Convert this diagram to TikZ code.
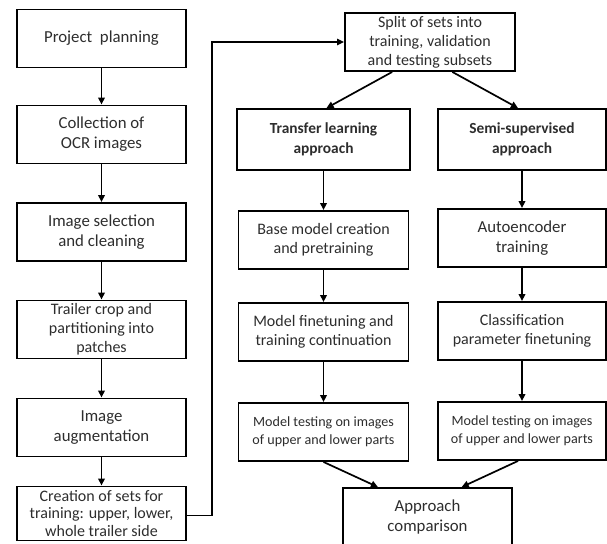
\documentclass[tikz,border=0pt]{standalone}
\usepackage{fontspec}
\setmainfont{Carlito}
\usepackage{tikz}
\usetikzlibrary{calc}
\usetikzlibrary{arrows.meta}
\definecolor{TxtGray}{RGB}{45,45,45}

\begin{document}
\begin{tikzpicture}
	\tikzstyle{blk} = [draw, line width=1.9pt, rectangle, align=center, text=TxtGray, inner sep=1pt, minimum width=170pt, minimum height=58pt, font=\fontsize{16.8}{20}\selectfont]
	\tikzstyle{sml} = [font=\fontsize{14.1}{18}\selectfont]
	\tikzstyle{mid} = [font=\fontsize{16}{19}\selectfont]
	\tikzstyle{hdr} = [font=\bfseries\fontsize{15.4}{19.5}\selectfont]
	\tikzstyle{arr} = [line width=1.7pt, -{Triangle[length=7pt,width=6.5pt]}]
	\useasboundingbox (0,0) rectangle (607pt,-543pt);

	% preparation
	\node[blk, minimum width=169pt] (plan) at (101.5pt,-38.5pt) {Project \ planning};
	\node[blk, minimum width=169pt, node distance=96pt] (coll) [below of=plan] {Collection of\\OCR images};
	\node[blk, minimum width=169pt, node distance=97.5pt] (sel) [below of=coll] {Image selection\\and cleaning};
	\node[blk, mid, minimum width=169pt, node distance=97.5pt] (crop) [below of=sel] {Trailer crop and\\partitioning into\\patches};
	\node[blk, minimum width=169pt, node distance=98pt] (aug) [below of=crop] {Image\\augmentation};
	\node[blk, font=\fontsize{16}{17.8}\selectfont, minimum width=169pt, minimum height=54pt, node distance=86pt] (sets) [below of=aug] {Creation of sets for\\training: upper, lower,\\whole trailer side};

	% two approaches
	\node[blk, mid] (split) at (430pt,-42pt) {Split of sets into\\training, validation\\and testing subsets};
	\node[blk, hdr, minimum width=173pt, minimum height=61pt] (tl) at (323.5pt,-139.5pt) {Transfer learning\\approach};
	\node[blk, mid, node distance=100.5pt] (base) [below of=tl] {Base model creation\\and pretraining};
	\node[blk, mid, node distance=92pt] (fine) [below of=base] {Model finetuning and\\training continuation};
	\node[blk, sml, node distance=100pt] (test1) [below of=fine] {Model testing on images\\of upper and lower parts};

	\node[blk, hdr, minimum width=168pt, minimum height=61pt] (ss) at (522pt,-139.5pt) {Semi-supervised\\approach};
	\node[blk, minimum width=168pt, node distance=98.5pt] (auto) [below of=ss] {Autoencoder\\training};
	\node[blk, mid, minimum width=168pt, node distance=93pt] (cls) [below of=auto] {Classification\\parameter finetuning};
	\node[blk, sml, minimum width=168pt, node distance=100pt] (test2) [below of=cls] {Model testing on images\\of upper and lower parts};

	\node[blk, minimum width=169pt] (comp) at (427.5pt,-517pt) {Approach\\comparison};

	\draw[arr] (plan) -- (coll);
	\draw[arr] (coll) -- (sel);
	\draw[arr] (sel) -- (crop);
	\draw[arr] (crop) -- (aug);
	\draw[arr] (aug) -- (sets);

	\draw[line width=1.2pt, -{Triangle[length=7pt,width=6.5pt]}] ($(sets.east)+(0,-2pt)$) -- ++(25pt,0) coordinate (turn) |- (split.west);

	\draw[arr] ($(split.south west)!0.28!(split.south east)$) -- ($(tl.north)+(3pt,0)$);
	\draw[arr] ($(split.south west)!0.63!(split.south east)$) -- ($(ss.north)+(-4pt,0)$);

	\draw[arr] (tl) -- (base);
	\draw[arr] (base) -- (fine);
	\draw[arr] (fine) -- (test1);
	\draw[arr] (ss) -- (auto);
	\draw[arr] (auto) -- (cls);
	\draw[arr] (cls) -- (test2);

	\draw[arr] (test1.south) -- ($(comp.north west)!0.21!(comp.north east)$);
	\draw[arr] ($(test2.south)+(-4pt,0)$) -- ($(comp.north west)!0.70!(comp.north east)$);
\end{tikzpicture}
\end{document}
